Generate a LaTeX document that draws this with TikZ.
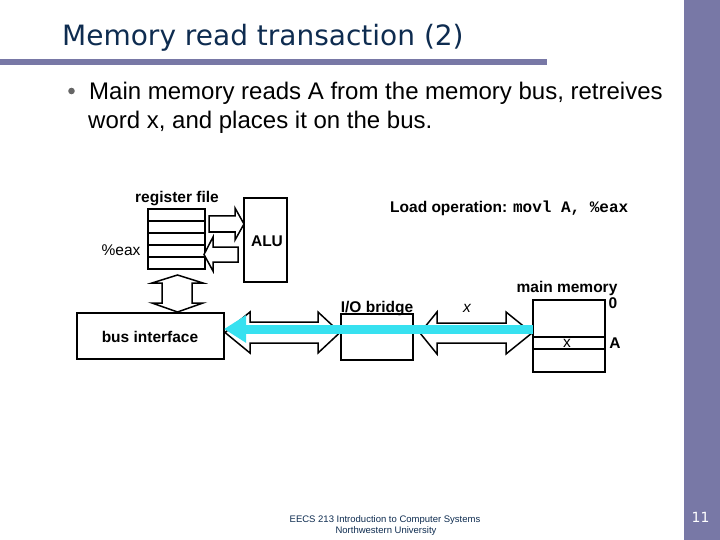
\documentclass[tikz,border=0pt]{standalone}
\usepackage{fontspec}
\setmainfont{Liberation Sans}
\newfontfamily\titlefont{DejaVu Sans}
\newfontfamily\codefont{Liberation Mono}
\usetikzlibrary{arrows.meta}
\definecolor{barcol}{RGB}{120,120,166}
\definecolor{navy}{RGB}{14,44,80}
\definecolor{buscyan}{RGB}{55,225,240}
\begin{document}
\begin{tikzpicture}[x=1pt,y=-1pt,
  box/.style={draw, line width=1.5pt, fill=white, inner sep=0, outer sep=0, anchor=north west},
  barrow/.style={draw, line width=1.5pt, fill=white, line join=miter},
  lbl/.style={font=\fontsize{15.5}{18}\selectfont\bfseries, anchor=base, inner sep=0},
  plain/.style={font=\fontsize{15.5}{18}\selectfont, anchor=base, inner sep=0},
  cyanbus/.style={draw=buscyan, line width=9pt, -{Triangle[length=22pt,width=26pt]}}]
\useasboundingbox (0,0) rectangle (720,540);
% slide decoration
\fill[barcol] (0,59.5) rectangle (547,65);
\fill[barcol] (684,0) rectangle (720,540);
\node[anchor=base west, inner sep=0, text=navy, font=\titlefont\fontsize{28}{32}\selectfont] (title) at (62,45.5) {Memory read transaction (2)};
\fill[gray!80!black] (71.5,91) circle (3.3);
\node[anchor=base west, inner sep=0, font=\fontsize{24}{29}\selectfont] (l1) at (89,100) {Main memory reads A from the memory bus, retreives};
\node[anchor=base west, inner sep=0, font=\fontsize{24}{29}\selectfont] (l2) at (88,129) {word x, and places it on the bus.};
% boxes
\node[box, minimum width=57, minimum height=60] (rf) at (148,209) {};
\foreach \yy in {221,233,245,257} \draw[line width=1.2pt] (148,\yy) -- (205,\yy);
\node[box, minimum width=43, minimum height=84] (alu) at (244,198) {};
\node[box, minimum width=147, minimum height=46] (bi) at (77,313) {};
\node[box, minimum width=72, minimum height=46] (iob) at (341,314) {};
\node[box, minimum width=72, minimum height=72] (mm) at (533,300) {};
\draw[line width=1.2pt] (533,337) -- (605,337);
\draw[line width=1.2pt] (533,349) -- (605,349);
% block arrows
\draw[barrow] (209,216) -- (235,216) -- (235,208) -- (244,224) -- (235,240) -- (235,232) -- (209,232) -- cycle;
\draw[barrow] (238,247) -- (213,247) -- (213,237) -- (204,254.5) -- (213,271) -- (213,262) -- (238,262) -- cycle;
\draw[barrow] (177.5,275) -- (203,283) -- (192,283) -- (192,303) -- (203,303) -- (177.5,312) -- (152,303) -- (162,303) -- (162,283) -- (152,283) -- cycle;
\draw[barrow] (225,332.5) -- (250,312) -- (250,322) -- (318,322) -- (318,312) -- (340,332.5) -- (318,353) -- (318,343) -- (250,343) -- (250,353) -- cycle;
\draw[barrow] (420,333) -- (437,312) -- (437,323) -- (506,323) -- (506,312) -- (532,333) -- (506,354) -- (506,343) -- (437,343) -- (437,354) -- cycle;
% cyan bus
\coordinate (cs) at (mm.west |- 0,329);
\coordinate (ce) at (bi.east |- 0,329);
\draw[cyanbus] (cs) -- (ce);
% labels
\node[lbl] (rft) at (177,203) {register file};
\node[plain] (eax) at (121,255) {\%eax};
\node[lbl] (alut) at (267,246) {ALU};
\node[lbl, anchor=base west] (load) at (390,212) {Load operation: \codefont\fontsize{16}{18}\selectfont movl A, \%eax};
\node[lbl] (bit) at (150,342) {bus interface};
\node[lbl] (iobt) at (377,312) {I/O bridge};
\node[plain] (xit) at (467,312) {\itshape x};
\node[lbl] (mmt) at (567,292) {main memory};
\node[lbl] (zero) at (613,308) {0};
\node[plain] (xm) at (567,347.5) {x};
\node[lbl] (addr) at (615,348) {A};
% footer
\node[anchor=base, inner sep=0, text=navy, font=\fontsize{9.5}{11}\selectfont] (f1) at (385,522) {EECS 213 Introduction to Computer Systems};
\node[anchor=base, inner sep=0, text=navy, font=\fontsize{9.5}{11}\selectfont] (f2) at (386,533) {Northwestern University};
\node[anchor=base, inner sep=0, text=white, font=\titlefont\fontsize{14}{16}\selectfont] (pg) at (700.5,522) {11};
\end{tikzpicture}
\end{document}
